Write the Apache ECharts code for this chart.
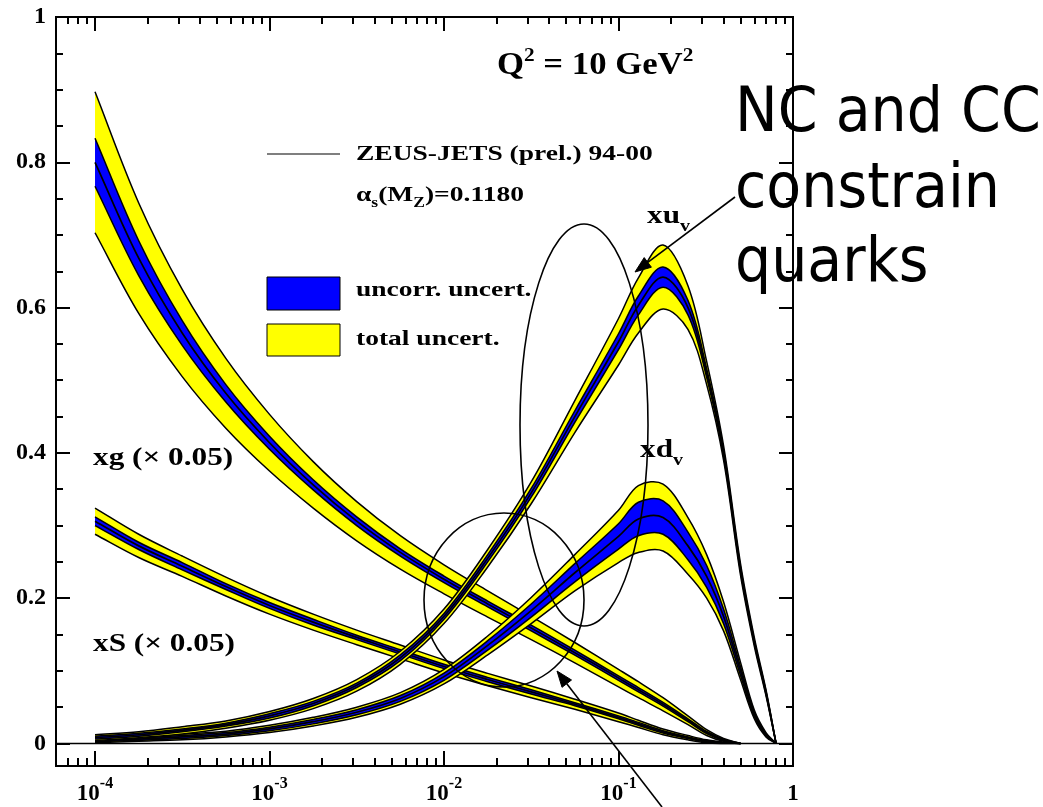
<!DOCTYPE html>
<html>
<head>
<meta charset="utf-8">
<script src="https://cdn.jsdelivr.net/npm/echarts@6/dist/echarts.min.js"></script>
<style>
  html, body { margin: 0; padding: 0; background: #ffffff; }
  #chart { width: 1043px; height: 807px; }
</style>
</head>
<body>
<div id="chart"></div>
<script>
// Momentum-fraction grid shared by all parton curves
const xGrid = [1e-4, 1.78e-4, 3.16e-4, 5.62e-4, 1e-3, 1.78e-3, 3.16e-3, 5.62e-3,
               0.01, 0.0178, 0.0316, 0.0562, 0.1, 0.13, 0.18, 0.25, 0.32, 0.4, 0.5, 0.6, 0.7, 0.8];

// xu_v : central value, uncorrelated and total half-widths
const xuvCentral = [0.008, 0.012, 0.018, 0.026, 0.038, 0.055, 0.08, 0.118, 0.175, 0.255, 0.345, 0.45, 0.553, 0.603, 0.642, 0.6, 0.51, 0.40, 0.24, 0.14, 0.07, 0];
const xuvUncorr  = [0.002, 0.002, 0.002, 0.002, 0.003, 0.003, 0.003, 0.004, 0.004, 0.005, 0.006, 0.008, 0.011, 0.013, 0.014, 0.01, 0.006, 0.004, 0.003, 0.002, 0.002, 0];
const xuvTotal   = [0.004, 0.004, 0.005, 0.005, 0.006, 0.007, 0.008, 0.009, 0.01, 0.012, 0.015, 0.022, 0.032, 0.038, 0.044, 0.03, 0.016, 0.01, 0.008, 0.006, 0.004, 0];

// xd_v
const xdvCentral = [0.004, 0.006, 0.009, 0.013, 0.02, 0.03, 0.043, 0.062, 0.092, 0.135, 0.183, 0.235, 0.285, 0.309, 0.311, 0.272, 0.23, 0.175, 0.1, 0.04, 0.012, 0];
const xdvUncorr  = [0.0015, 0.0015, 0.002, 0.002, 0.0025, 0.003, 0.0035, 0.004, 0.005, 0.0065, 0.009, 0.0125, 0.0175, 0.023, 0.023, 0.019, 0.015, 0.01, 0.006, 0.003, 0.0015, 0];
const xdvTotal   = [0.003, 0.003, 0.004, 0.004, 0.005, 0.006, 0.007, 0.008, 0.01, 0.013, 0.018, 0.025, 0.036, 0.046, 0.046, 0.039, 0.03, 0.02, 0.012, 0.006, 0.003, 0];

// xg (x 0.05)
const xgCentral = [0.80, 0.668, 0.565, 0.482, 0.414, 0.356, 0.306, 0.263, 0.226, 0.192, 0.159, 0.125, 0.09, 0.074, 0.054, 0.032, 0.015, 0.005, 0];
const xgUncorr  = [0.033, 0.024, 0.017, 0.012, 0.009, 0.007, 0.006, 0.005, 0.0045, 0.004, 0.004, 0.0035, 0.003, 0.003, 0.0025, 0.002, 0.0015, 0.001, 0];
const xgTotal   = [0.097, 0.076, 0.06, 0.048, 0.039, 0.032, 0.027, 0.023, 0.02, 0.018, 0.016, 0.014, 0.012, 0.011, 0.009, 0.006, 0.004, 0.002, 0];

// xS (x 0.05)
const xsCentral = [0.306, 0.272, 0.244, 0.216, 0.19, 0.167, 0.146, 0.126, 0.106, 0.088, 0.071, 0.054, 0.036, 0.027, 0.016, 0.008, 0.003, 0.001, 0];
const xsUncorr  = [0.006, 0.005, 0.005, 0.004, 0.004, 0.004, 0.003, 0.003, 0.003, 0.003, 0.003, 0.002, 0.002, 0.002, 0.0015, 0.001, 0.001, 0, 0];
const xsTotal   = [0.018, 0.016, 0.014, 0.013, 0.012, 0.011, 0.01, 0.0095, 0.009, 0.0085, 0.008, 0.007, 0.006, 0.005, 0.004, 0.003, 0.002, 0.001, 0];

// Tick positions
const xMajorTicks = [1e-4, 1e-3, 1e-2, 1e-1, 1];
const xLabelExponents = [-4, -3, -2, -1, 0];
const yMajorTicks = [0, 0.2, 0.4, 0.6, 0.8, 1];

// Axis ranges
const X_MIN = 5.976e-5;
const X_MAX = 1;
const Y_MIN = -0.031;
const Y_MAX = 1;
const LOG_MIN = Math.log10(X_MIN);

const xMinorTicks = [];
for (let e = -5; e < 0; e++) {
  for (let m = 2; m <= 9; m++) {
    const v = m * Math.pow(10, e);
    if (v > X_MIN * 1.05) xMinorTicks.push(v);
  }
}
const yMinorTicks = [];
for (let k = 1; k < 20; k++) {
  if (k % 4 !== 0) yMinorTicks.push(+(k * 0.05).toFixed(2));
}

const SERIF = '"Liberation Serif", "Times New Roman", serif';
const YELLOW = '#ffff00';
const BLUE = '#0000ff';
const SMOOTH = 0.35;

// One parton distribution drawn as a custom series:
// yellow total band, blue uncorrelated band, black edges and black central line.
function partonSeries(key, central, uncorr, total) {
  const rows = central.map((c, i) => [
    xGrid[i], c,
    Math.max(0, c - uncorr[i]), c + uncorr[i],
    Math.max(0, c - total[i]), c + total[i]
  ]);
  return {
    type: 'custom', name: key, silent: true, animation: false, clip: true,
    xAxisIndex: 0, yAxisIndex: 0,
    data: rows,
    encode: { x: 0, y: [1, 2, 3, 4, 5] },
    renderItem: function (params, api) {
      if (params.dataIndex !== 0) return null;
      const n = rows.length;
      const edge = dim => {
        const pts = [];
        for (let i = 0; i < n; i++) pts.push(api.coord([api.value(0, i), api.value(dim, i)]));
        // doubled end points keep the smoothed ends square
        return [pts[0]].concat(pts, [pts[n - 1]]);
      };
      const mid = edge(1);
      const uLo = edge(2), uHi = edge(3);
      const tLo = edge(4), tHi = edge(5);
      const fill = (hi, lo, color) => ({
        type: 'polygon',
        shape: { points: hi.concat(lo.slice().reverse()), smooth: SMOOTH },
        style: { fill: color, stroke: null }
      });
      const line = (pts, w) => ({
        type: 'polyline',
        shape: { points: pts, smooth: SMOOTH },
        style: { fill: null, stroke: '#000', lineWidth: w }
      });
      return {
        type: 'group',
        children: [
          fill(tHi, tLo, YELLOW),
          fill(uHi, uLo, BLUE),
          line(tHi, 1.5), line(tLo, 1.5),
          line(uHi, 1.5), line(uLo, 1.5),
          line(mid, 1.7)
        ]
      };
    }
  };
}

function xTickAxis(position, values, length, withLabels) {
  const axis = {
    type: 'value', position: position, min: LOG_MIN, max: 0,
    axisLine: { show: false, onZero: false },
    splitLine: { show: false },
    axisTick: {
      show: true, inside: true, length: length,
      customValues: values.map(v => Math.log10(v)),
      lineStyle: { color: '#000', width: 2 }
    },
    axisLabel: { show: false }
  };
  if (withLabels) {
    axis.axisLabel = {
      show: true,
      customValues: xLabelExponents,
      margin: 10,
      formatter: function (v) {
        const e = Math.round(v);
        return e === 0 ? '{b|1}' : '{b|10}{s|' + e + '}';
      },
      rich: {
        b: { fontFamily: SERIF, fontWeight: 'bold', fontSize: 23, color: '#000', lineHeight: 36 },
        s: { fontFamily: SERIF, fontWeight: 'bold', fontSize: 16, color: '#000', lineHeight: 16, verticalAlign: 'top' }
      }
    };
  }
  return axis;
}

function yTickAxis(position, values, length, withLabels) {
  const axis = {
    type: 'value', position: position, min: Y_MIN, max: Y_MAX,
    axisLine: { show: false, onZero: false },
    splitLine: { show: false },
    axisTick: {
      show: true, inside: true, length: length,
      customValues: values,
      lineStyle: { color: '#000', width: 2 }
    },
    axisLabel: { show: false }
  };
  if (withLabels) {
    axis.axisLabel = {
      show: true, customValues: values, margin: 10,
      color: '#000', fontFamily: SERIF, fontWeight: 'bold', fontSize: 24,
      formatter: v => String(+(+v).toFixed(1))
    };
  }
  return axis;
}

// Arrow helper for the annotation arrows
function arrow(x1, y1, x2, y2) {
  const dx = x2 - x1, dy = y2 - y1;
  const len = Math.sqrt(dx * dx + dy * dy);
  const ux = dx / len, uy = dy / len;
  const hl = 16, hw = 6;
  const bx = x2 - ux * hl, by = y2 - uy * hl;
  return [
    { type: 'line', z: 100, silent: true, shape: { x1: x1, y1: y1, x2: bx, y2: by },
      style: { stroke: '#000', lineWidth: 1.6 } },
    { type: 'polygon', z: 100, silent: true,
      shape: { points: [[x2, y2], [bx - uy * hw, by + ux * hw], [bx + uy * hw, by - ux * hw]] },
      style: { fill: '#000', stroke: '#000', lineWidth: 1 } }
  ];
}

function label(x, y, text, opts) {
  opts = opts || {};
  return {
    type: 'text', z: 100, silent: true, x: x, y: y,
    scaleX: opts.scaleX || 1,
    style: {
      text: text, x: 0, y: 0,
      fill: '#000',
      fontFamily: opts.fontFamily || SERIF,
      fontWeight: opts.fontWeight || 'bold',
      fontSize: opts.fontSize || 22,
      align: opts.align || 'left', textAlign: opts.align || 'left',
      verticalAlign: 'middle', textVerticalAlign: 'middle',
      rich: opts.rich
    }
  };
}

// horizontal line at y = 0 spanning the frame
const zeroLine = {
  type: 'line', name: 'zero', silent: true, animation: false,
  xAxisIndex: 0, yAxisIndex: 0, symbol: 'none',
  data: [[X_MIN, 0], [X_MAX, 0]],
  lineStyle: { color: '#000', width: 1.5 }
};

const series = [zeroLine,
  partonSeries('xS', xsCentral, xsUncorr, xsTotal),
  partonSeries('xg', xgCentral, xgUncorr, xgTotal),
  partonSeries('xd_v', xdvCentral, xdvUncorr, xdvTotal),
  partonSeries('xu_v', xuvCentral, xuvUncorr, xuvTotal)];

const STRETCH = 1.25;
const subRich = (fs, lh) => ({
  n: { fontFamily: SERIF, fontWeight: 'bold', fontSize: fs, lineHeight: lh, color: '#000' },
  d: { fontFamily: SERIF, fontWeight: 'bold', fontSize: Math.round(fs * 0.62), color: '#000', verticalAlign: 'bottom' },
  u: { fontFamily: SERIF, fontWeight: 'bold', fontSize: Math.round(fs * 0.6), color: '#000', verticalAlign: 'top' }
});

const COMIC = '"DejaVu Sans", sans-serif';

const graphics = [
  // title
  label(497, 66, '{n|Q}{u|2}{n| = 10 GeV}{u|2}', { fontSize: 31, scaleX: 1.12, rich: subRich(31, 38) }),
  // legend
  { type: 'line', z: 100, silent: true, shape: { x1: 267, y1: 154, x2: 340, y2: 154 },
    style: { stroke: '#000', lineWidth: 1.2 } },
  label(356, 154.5, 'ZEUS-JETS (prel.) 94-00', { fontSize: 22, scaleX: STRETCH }),
  label(356, 195, '{n|\u03b1}{d|s}{n|(M}{d|Z}{n|)=0.1180}', { fontSize: 22, scaleX: STRETCH, rich: subRich(22, 30) }),
  { type: 'rect', z: 100, silent: true, shape: { x: 267, y: 277, width: 73, height: 33 },
    style: { fill: BLUE, stroke: '#000', lineWidth: 1 } },
  { type: 'rect', z: 100, silent: true, shape: { x: 267, y: 324, width: 73, height: 32 },
    style: { fill: YELLOW, stroke: '#000', lineWidth: 1 } },
  label(356, 290.5, 'uncorr. uncert.', { fontSize: 22, scaleX: STRETCH }),
  label(356, 339.5, 'total uncert.', { fontSize: 22, scaleX: STRETCH }),
  // curve labels
  label(647, 217, '{n|xu}{d|v}', { fontSize: 25, scaleX: STRETCH, rich: subRich(25, 36) }),
  label(640, 451, '{n|xd}{d|v}', { fontSize: 25, scaleX: STRETCH, rich: subRich(25, 36) }),
  label(93, 459, 'xg (\u00d7 0.05)', { fontSize: 25, scaleX: STRETCH }),
  label(93, 645, 'xS (\u00d7 0.05)', { fontSize: 25, scaleX: STRETCH }),
  // annotation
  { type: 'ellipse', z: 100, silent: true, shape: { cx: 584, cy: 425, rx: 64, ry: 201 },
    style: { fill: 'none', stroke: '#000', lineWidth: 1.6 } },
  { type: 'ellipse', z: 100, silent: true, shape: { cx: 504, cy: 600, rx: 80, ry: 87 },
    style: { fill: 'none', stroke: '#000', lineWidth: 1.6 } },
  label(735, 115, 'NC and CC', { fontFamily: COMIC, fontWeight: 'normal', fontSize: 62, scaleX: 0.92 }),
  label(735, 191, 'constrain', { fontFamily: COMIC, fontWeight: 'normal', fontSize: 62, scaleX: 0.92 }),
  label(735, 265, 'quarks', { fontFamily: COMIC, fontWeight: 'normal', fontSize: 62, scaleX: 0.92 })
].concat(arrow(735, 197, 635, 272)).concat(arrow(662, 807, 557, 671));

const chart = echarts.init(document.getElementById('chart'), null, { renderer: 'canvas' });
chart.setOption({
  animation: false,
  backgroundColor: '#ffffff',
  grid: {
    left: 56, right: 250, top: 17, bottom: 41,
    show: true, borderColor: '#000', borderWidth: 2, backgroundColor: 'transparent',
    containLabel: false, outerBoundsMode: 'none'
  },
  xAxis: [
    {
      type: 'log', logBase: 10, min: X_MIN, max: X_MAX, show: false,
      axisLine: { show: false, onZero: false }, splitLine: { show: false }
    },
    xTickAxis('bottom', xMajorTicks, 15, true),
    xTickAxis('bottom', xMinorTicks, 8, false),
    xTickAxis('top', xMajorTicks, 14, false),
    xTickAxis('top', xMinorTicks, 7, false)
  ],
  yAxis: [
    yTickAxis('left', yMajorTicks, 14, true),
    yTickAxis('left', yMinorTicks, 7, false),
    yTickAxis('right', yMajorTicks, 14, false),
    yTickAxis('right', yMinorTicks, 7, false)
  ],
  series: series,
  graphic: graphics
});
</script>
</body>
</html>
